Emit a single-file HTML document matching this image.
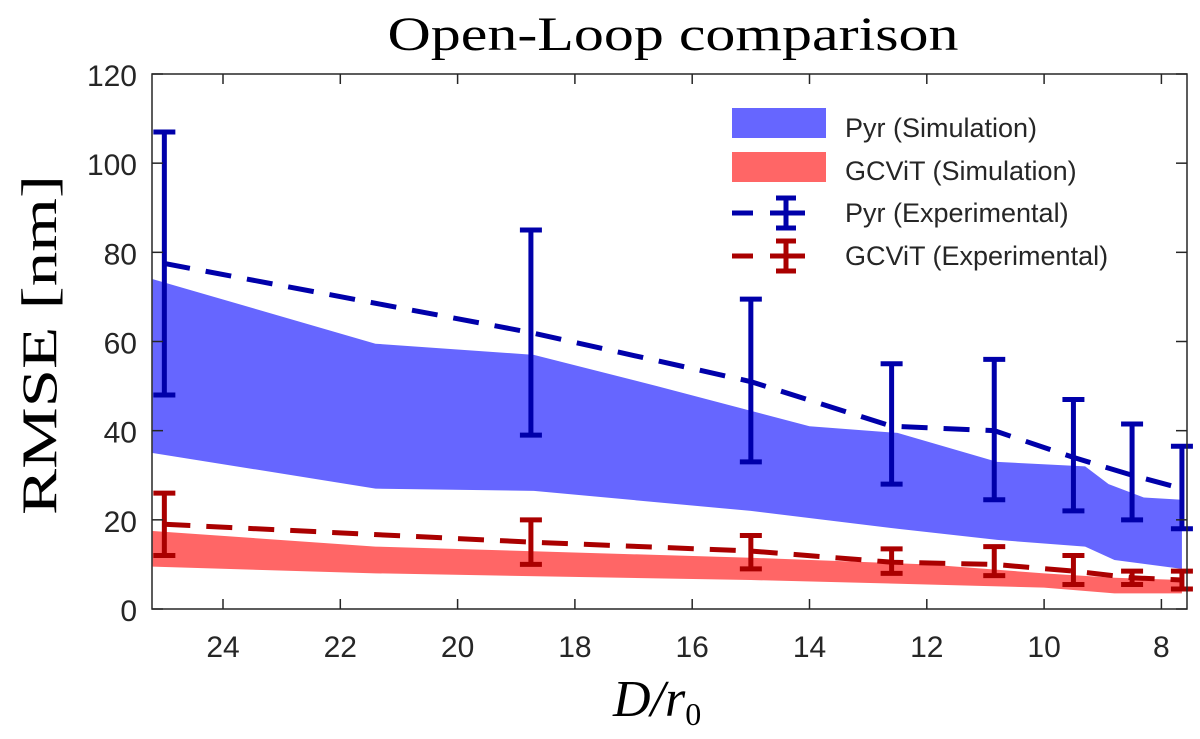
<!DOCTYPE html>
<html><head><meta charset="utf-8"><style>
html,body{margin:0;padding:0;background:#fff;}
svg{display:block;}
text{font-family:"Liberation Sans",sans-serif;fill:#262626;}
</style></head><body>
<svg id="chart" width="1200" height="739" viewBox="0 0 1200 739">
<g id="bands"></g><g id="lines"></g>
<rect x="152" y="74" width="1035" height="535" fill="none" stroke="#262626" stroke-width="1.5"/>
<g id="axes"></g>
<text x="673" y="50" text-anchor="middle" textLength="571" lengthAdjust="spacingAndGlyphs" style="font-family:'Liberation Serif',serif;font-size:48px;fill:#000">Open-Loop comparison</text>
<text transform="translate(56,345) rotate(-90)" text-anchor="middle" textLength="340" lengthAdjust="spacingAndGlyphs" style="font-family:'Liberation Serif',serif;font-size:50px;fill:#000">RMSE [nm]</text>
<text x="613" y="716" style="font-family:'Liberation Serif',serif;font-size:52px;font-style:italic;fill:#000">D/r<tspan dy="9" font-size="32" font-style="normal">0</tspan></text>
<g id="legend">
<rect x="732" y="108" width="94" height="30" fill="#6666ff"/>
<text x="845" y="137" font-size="27">Pyr (Simulation)</text>
<rect x="732" y="152" width="94" height="30" fill="#ff6666"/>
<text x="845" y="180" font-size="27">GCViT (Simulation)</text>
<g stroke="#0000aa" stroke-width="5">
<line x1="732" y1="213" x2="753" y2="213"/><line x1="770" y1="213" x2="805" y2="213"/><line x1="786" y1="198" x2="786" y2="228"/><line x1="776" y1="198" x2="796" y2="198"/><line x1="776" y1="228" x2="796" y2="228"/></g>
<text x="845" y="222" font-size="27">Pyr (Experimental)</text>
<g stroke="#aa0000" stroke-width="5">
<line x1="732" y1="256" x2="753" y2="256"/><line x1="770" y1="256" x2="805" y2="256"/><line x1="786" y1="241" x2="786" y2="271"/><line x1="776" y1="241" x2="796" y2="241"/><line x1="776" y1="271" x2="796" y2="271"/></g>
<text x="845" y="265" font-size="27">GCViT (Experimental)</text>
</g>
</svg>
<script>
const xTicks=[24,22,20,18,16,14,12,10,8];
const yTicks=[0,20,40,60,80,100,120];
const expX=[25.0,18.75,15.0,12.6,10.85,9.5,8.5,7.65];
const pyrMean=[77.5,62,51,41,40,34,30,27];
const pyrHi=[107,85,69.5,55,56,47,41.5,36.5];
const pyrLo=[48,39,33,28,24.5,22,20,18];
const gcMean=[19,15,13,10.5,10,8.5,7,6.5];
const gcHi=[26,20,16.5,13.5,14,12,8.5,8.5];
const gcLo=[12,10,9,8,7.5,5.5,5.5,4.5];
const pyrBandUpX=[25.2,21.4,18.7,16.6,14,12.5,10.8,9.3,8.9,8.3,7.65];
const pyrBandUp=[74,59.5,57,50,41,39.5,33,32,28,25,24.5];
const pyrBandLoX=[25.2,21.4,18.7,15,12.5,10.8,9.3,8.8,7.65];
const pyrBandLo=[35,27,26.5,22,18,15.5,14,11,9];
const gcBandX=[25.2,21.4,15,12,10,8.8,7.65];
const gcBandUp=[17.5,14,11.5,10,8,7,6.5];
const gcBandLo=[9.5,8,6.5,5.5,4.8,3.5,3.5];
const X=v=>223+(24-v)*58.65;
const Y=v=>609-v*(535/120);
const NS="http://www.w3.org/2000/svg";
function mk(p,t,a){const e=document.createElementNS(NS,t);for(const k in a)e.setAttribute(k,a[k]);p.appendChild(e);return e;}
const axes=document.getElementById('axes');
xTicks.forEach(t=>{const x=X(t);
 const a=mk(axes,'line',{x1:x,x2:x,y1:609,y2:599,stroke:'#262626','stroke-width':1.5});
 
 
 const b=mk(axes,'line',{x1:x,x2:x,y1:74,y2:84,stroke:'#262626','stroke-width':1.5});
 
 
 const l=mk(axes,'text',{x:x,y:657,'text-anchor':'middle','font-size':30});l.textContent=t;
 
 });
yTicks.forEach(t=>{const y=Y(t);
 const a=mk(axes,'line',{x1:152,x2:163,y1:y,y2:y,stroke:'#262626','stroke-width':1.5});
 
 
 const b=mk(axes,'line',{x1:1176,x2:1187,y1:y,y2:y,stroke:'#262626','stroke-width':1.5});
 
 
 const l=mk(axes,'text',{x:137,y:y+12,'text-anchor':'end','font-size':30});l.textContent=t;
 
 });
const bands=document.getElementById('bands');
function band(ux,uy,lx,ly,col,name){
 const pts=ux.map((v,i)=>X(v)+','+Y(uy[i]));
 for(let i=lx.length-1;i>=0;i--)pts.push(X(lx[i])+','+Y(ly[i]));
 const p=mk(bands,'polygon',{points:pts.join(' '),fill:col});
 
 }
band(pyrBandUpX,pyrBandUp,pyrBandLoX,pyrBandLo,'#6666ff','pyr-simulation-band');
band(gcBandX,gcBandUp,gcBandX,gcBandLo,'#ff6666','gcvit-simulation-band');
const lines=document.getElementById('lines');
function series(m,hi,lo,col,name){
 const pl=mk(lines,'polyline',{points:expX.map((v,i)=>X(v)+','+Y(m[i])).join(' '),fill:'none',stroke:col,'stroke-width':5,'stroke-dasharray':'26 16'});
 
 
 expX.forEach((v,i)=>{const g=mk(lines,'g',{stroke:col,'stroke-width':5});
  
  
  const x=X(v);
  mk(g,'line',{x1:x,x2:x,y1:Y(hi[i]),y2:Y(lo[i])});
  mk(g,'line',{x1:x-11,x2:x+11,y1:Y(hi[i]),y2:Y(hi[i])});
  mk(g,'line',{x1:x-11,x2:x+11,y1:Y(lo[i]),y2:Y(lo[i])});});}
series(pyrMean,pyrHi,pyrLo,'#0000aa','pyr-experimental');
series(gcMean,gcHi,gcLo,'#aa0000','gcvit-experimental');
</script>
</body></html>
